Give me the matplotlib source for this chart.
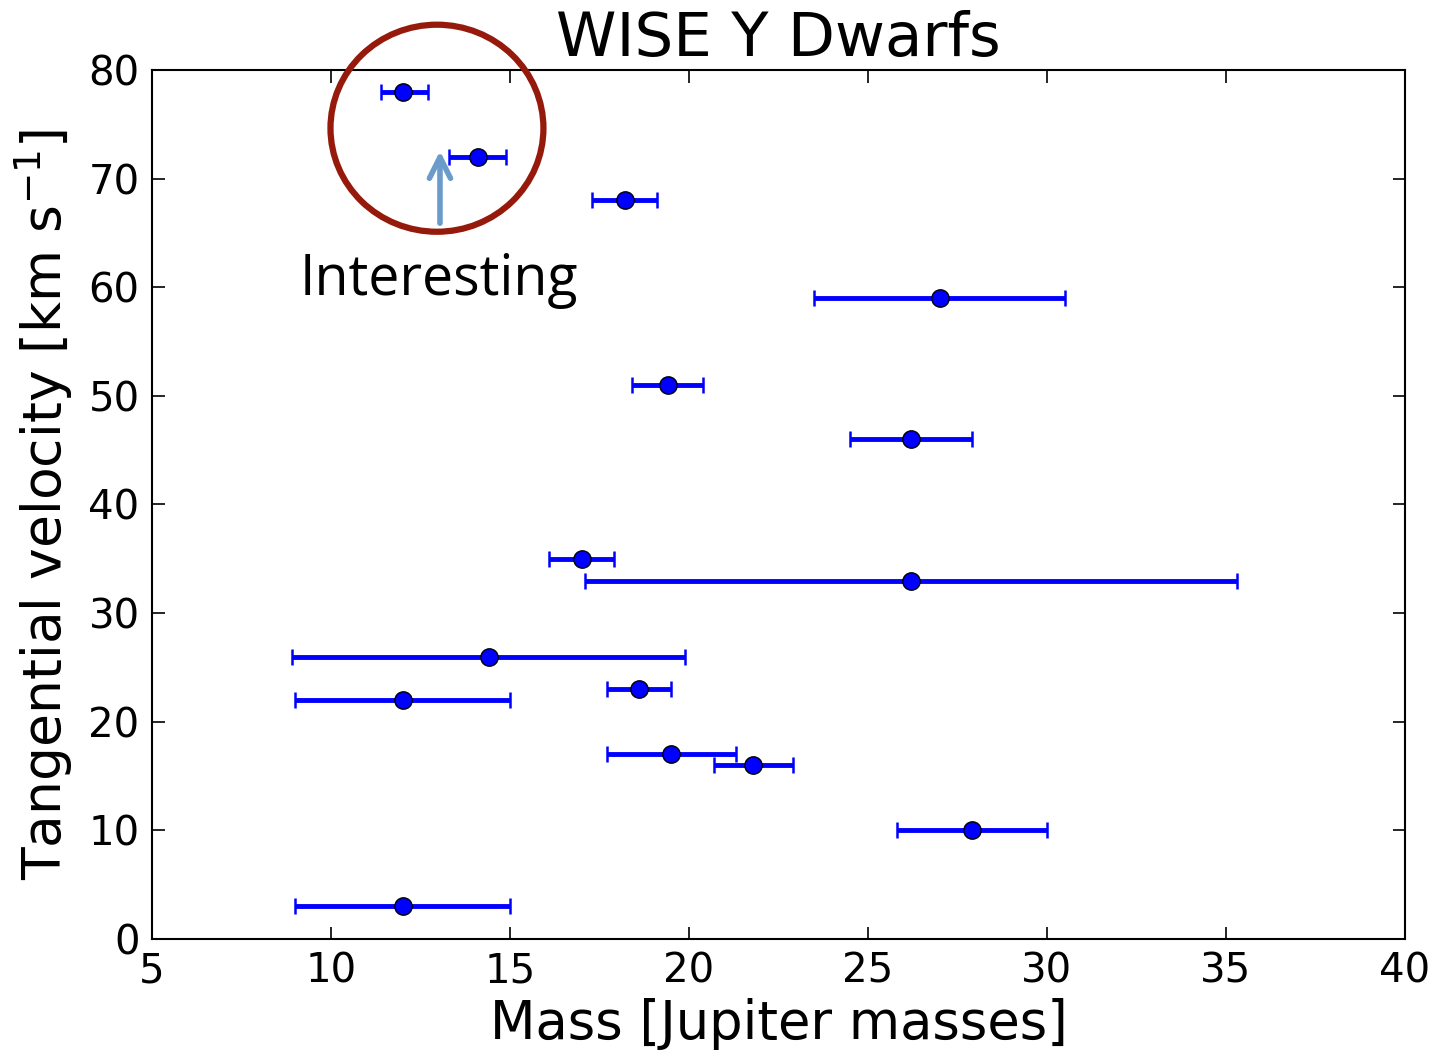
import matplotlib
matplotlib.use("Agg")
import matplotlib.pyplot as plt
import numpy as np
from matplotlib.patches import Ellipse

# mass [Jupiter masses] with lower/upper bounds, tangential velocity [km/s]
mass = np.array([12.0, 14.1, 18.2, 27.0, 19.4, 26.2, 17.0, 26.2, 14.4, 18.6, 12.0, 19.5, 21.8, 27.9, 12.0])
mass_lo = np.array([11.4, 13.3, 17.3, 23.5, 18.4, 24.5, 16.1, 17.1, 8.9, 17.7, 9.0, 17.7, 20.7, 25.8, 9.0])
mass_hi = np.array([12.7, 14.9, 19.1, 30.5, 20.4, 27.9, 17.9, 35.3, 19.9, 19.5, 15.0, 21.3, 22.9, 30.0, 15.0])
vtan = np.array([78, 72, 68, 59, 51, 46, 35, 33, 26, 23, 22, 17, 16, 10, 3])

plt.rcParams["font.family"] = "DejaVu Sans"
fig = plt.figure(figsize=(14.35, 10.51), dpi=100)
ax = fig.add_axes([0.106, 0.1066, 0.873, 0.8268])

xerr = np.vstack([mass - mass_lo, mass_hi - mass])
ax.errorbar(mass, vtan, xerr=xerr, fmt="o", color="b", ecolor="b",
            mfc="b", mec="k", ms=12.5, elinewidth=3.5, capsize=6, capthick=1.8)

ax.set_xlim(5, 40)
ax.set_ylim(0, 80)
ax.tick_params(direction="in", top=True, right=True, labelsize=29, length=9, width=1.2, pad=9)
for s in ax.spines.values():
    s.set_linewidth(1.5)
ax.set_xlabel("Mass [Jupiter masses]", fontsize=38, labelpad=5)
ax.set_ylabel(r"Tangential velocity [km s$^{-1}$]", fontsize=38.5, labelpad=10)
ax.set_title("WISE Y Dwarfs", fontsize=44, pad=10)

# annotation: circle, arrow, label
fig.patches.append(Ellipse((0.3045, 0.878), 0.1484, 0.197, transform=fig.transFigure,
                           fill=False, edgecolor="#951a0c", linewidth=4.5))
ax.annotate("", xy=(0.3066, 0.859), xytext=(0.3066, 0.785),
            xycoords="figure fraction", textcoords="figure fraction",
            arrowprops=dict(arrowstyle="->", color="#6a9bcb", lw=4, mutation_scale=38))
fig.text(0.3055, 0.733, "Interesting", fontsize=40, family="Open Sans",
         ha="center", va="center")

fig.savefig("out.png", dpi=100)
